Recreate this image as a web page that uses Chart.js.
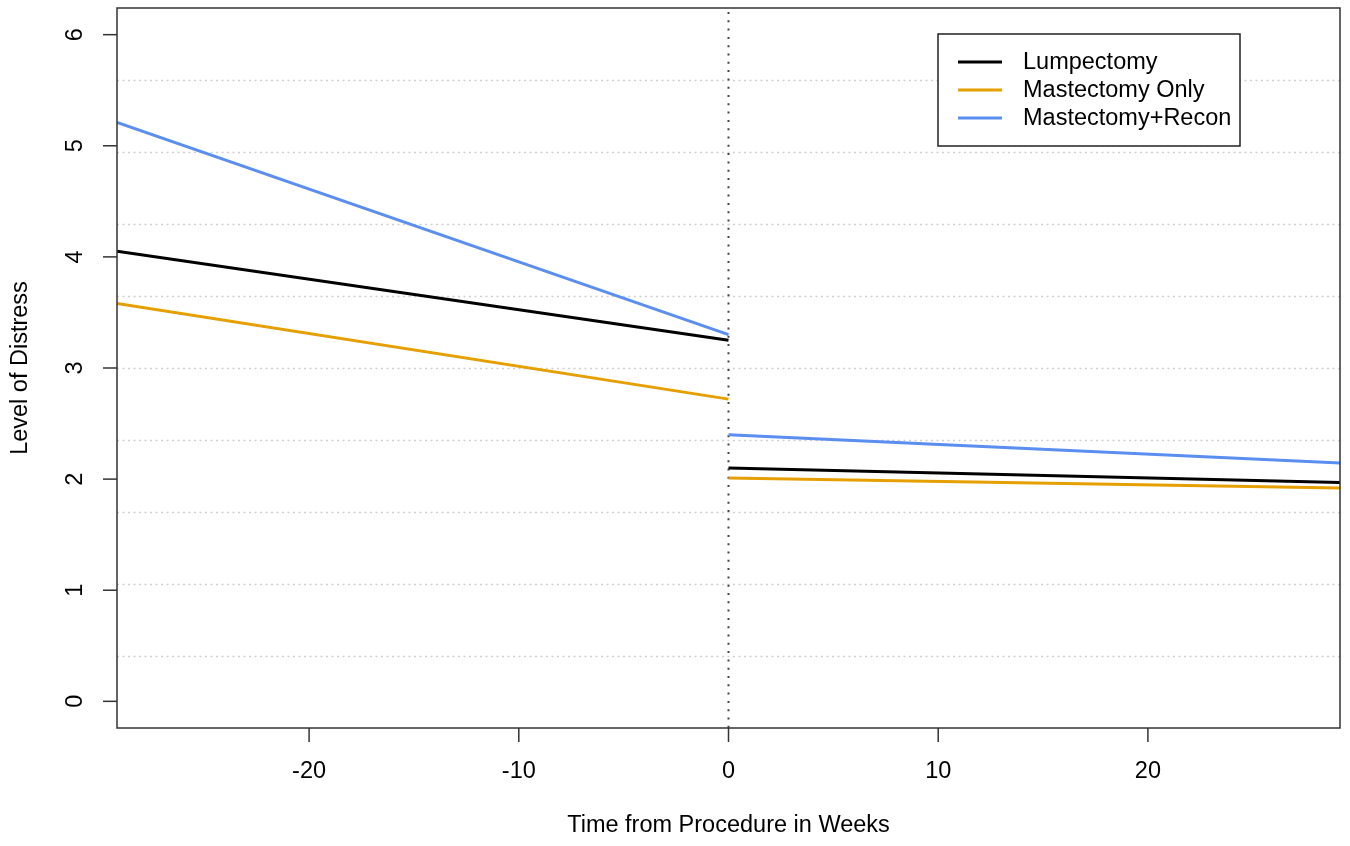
<!DOCTYPE html>
<html><head><meta charset="utf-8">
<script src="https://cdn.jsdelivr.net/npm/chart.js@4"></script>
<style>html,body{margin:0;padding:0;background:#fff}#wrap{width:1350px;height:846px}</style>
</head><body><div id="wrap"><canvas id="c" width="1350" height="846"></canvas></div>
<script>
const seriesNames = ['Lumpectomy', 'Mastectomy Only', 'Mastectomy+Recon'];
const seriesColors = ['#000000', '#E69F00', '#5A8EF0'];
// time points: pre-procedure start, pre end, post start, post end
const weeks = [-29.16, 0, 0, 29.16];
const lumpectomy = [4.05, 3.25, 2.10, 1.97];
const mastectomyOnly = [3.58, 2.72, 2.01, 1.92];
const mastectomyRecon = [5.21, 3.30, 2.40, 2.145];
const xTicks = [-20, -10, 0, 10, 20];
const yTicks = [0, 1, 2, 3, 4, 5, 6];
const yGrid = [0.408, 1.056, 1.704, 2.352, 3.0, 3.648, 4.296, 4.944, 5.592];
const xRange = [-29.16, 29.16];
const yRange = [-0.24, 6.24];
const xTitle = 'Time from Procedure in Weeks';
const yTitle = 'Level of Distress';

const FONT = '23.5px "Liberation Sans", Arial, Helvetica, sans-serif';

function buildData(vals) {
  return [
    {x: weeks[0], y: vals[0]},
    {x: weeks[1], y: vals[1]},
    {x: 0, y: null},
    {x: weeks[2], y: vals[2]},
    {x: weeks[3], y: vals[3]}
  ];
}
const allSeries = [lumpectomy, mastectomyOnly, mastectomyRecon];

const decor = {
  id: 'decor',
  beforeDatasetsDraw(chart) {
    const {ctx, chartArea: a, scales: {x, y}} = chart;
    ctx.save();
    ctx.strokeStyle = '#cfcfcf';
    ctx.lineWidth = 1.5;
    ctx.setLineDash([2, 3.5]);
    yGrid.forEach(v => {
      const py = Math.round(y.getPixelForValue(v)) + 0.5;
      ctx.beginPath(); ctx.moveTo(a.left, py); ctx.lineTo(a.right, py); ctx.stroke();
    });
    ctx.strokeStyle = '#444';
    ctx.lineWidth = 2;
    ctx.setLineDash([2, 6.3]);
    const px0 = x.getPixelForValue(0);
    ctx.beginPath(); ctx.moveTo(px0, a.top + 4); ctx.lineTo(px0, a.bottom); ctx.stroke();
    ctx.restore();
  },
  afterDraw(chart) {
    const {ctx, chartArea: a, scales: {x, y}} = chart;
    ctx.save();
    ctx.setLineDash([]);
    ctx.strokeStyle = '#333';
    ctx.lineWidth = 1.5;
    ctx.strokeRect(a.left, a.top, a.right - a.left, a.bottom - a.top);
    ctx.fillStyle = '#000';
    ctx.font = FONT;
    ctx.textAlign = 'center';
    ctx.textBaseline = 'middle';
    xTicks.forEach(v => {
      const px = x.getPixelForValue(v);
      ctx.beginPath(); ctx.moveTo(px, a.bottom); ctx.lineTo(px, a.bottom + 14); ctx.stroke();
      ctx.fillText(String(v), px, a.bottom + 44);
    });
    yTicks.forEach(v => {
      const py = y.getPixelForValue(v);
      ctx.beginPath(); ctx.moveTo(a.left, py); ctx.lineTo(a.left - 14, py); ctx.stroke();
      ctx.save();
      ctx.translate(a.left - 41, py);
      ctx.rotate(-Math.PI / 2);
      ctx.fillText(String(v), 0, 0);
      ctx.restore();
    });
    ctx.fillText(xTitle, (a.left + a.right) / 2, a.bottom + 98);
    ctx.save();
    ctx.translate(21, (a.top + a.bottom) / 2);
    ctx.rotate(-Math.PI / 2);
    ctx.fillText(yTitle, 0, 0);
    ctx.restore();
    // legend
    const lx = 938, ly = 34, lw = 302, lh = 112;
    ctx.fillStyle = '#fff';
    ctx.fillRect(lx, ly, lw, lh);
    ctx.strokeStyle = '#222';
    ctx.lineWidth = 1.5;
    ctx.strokeRect(lx, ly, lw, lh);
    ctx.textAlign = 'left';
    chart.data.datasets.forEach((ds, i) => {
      const ry = ly + 28 + i * 28;
      ctx.strokeStyle = ds.borderColor;
      ctx.lineWidth = 3;
      ctx.beginPath(); ctx.moveTo(lx + 20, ry); ctx.lineTo(lx + 64, ry); ctx.stroke();
      ctx.fillStyle = '#000';
      ctx.fillText(ds.label, lx + 85, ry + 1);
    });
    ctx.restore();
  }
};

new Chart(document.getElementById('c'), {
  type: 'scatter',
  data: {
    datasets: allSeries.map((vals, i) => ({
      label: seriesNames[i],
      data: buildData(vals),
      showLine: true,
      spanGaps: false,
      borderColor: seriesColors[i],
      backgroundColor: seriesColors[i],
      borderWidth: 3,
      pointRadius: 0,
      pointHoverRadius: 0
    }))
  },
  options: {
    responsive: false,
    animation: false,
    devicePixelRatio: 1,
    layout: {padding: {left: 117, top: 8, right: 10, bottom: 118}},
    plugins: {legend: {display: false}, tooltip: {enabled: false}},
    scales: {
      x: {type: 'linear', display: false, min: xRange[0], max: xRange[1]},
      y: {type: 'linear', display: false, min: yRange[0], max: yRange[1]}
    }
  },
  plugins: [decor]
});
</script>
</body></html>
